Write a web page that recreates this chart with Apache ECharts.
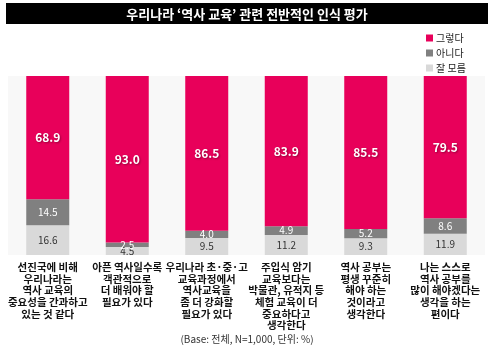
<!DOCTYPE html>
<html><head><meta charset="utf-8">
<script src="https://cdn.jsdelivr.net/npm/echarts@6/dist/echarts.min.js"></script>
<style>html,body{margin:0;padding:0;background:#fff}#c{width:494px;height:355px}</style>
</head><body><div id="c"></div>
<script>
const titleText = "우리나라 ‘역사 교육’ 관련 전반적인 인식 평가";
const footerText = "(Base: 전체, N=1,000, 단위: %)";
const categories = [
  "선진국에 비해\n우리나라는\n역사 교육의\n중요성을 간과하고\n있는 것 같다",
  "아픈 역사일수록\n객관적으로\n더 배워야 할\n필요가 있다",
  "우리나라 초·중·고\n교육과정에서\n역사교육을\n좀 더 강화할\n필요가 있다",
  "주입식 암기\n교육보다는\n박물관, 유적지 등\n체험 교육이 더\n중요하다고\n생각한다",
  "역사 공부는\n평생 꾸준히\n해야 하는\n것이라고\n생각한다",
  "나는 스스로\n역사 공부를\n많이 해야겠다는\n생각을 하는\n편이다"
];
const seriesNames = ["잘 모름", "아니다", "그렇다"];
const unknownVals = [16.6, 4.5, 9.5, 11.2, 9.3, 11.9];
const noVals = [14.5, 2.5, 4.0, 4.9, 5.2, 8.6];
const yesVals = [68.9, 93.0, 86.5, 83.9, 85.5, 79.5];

const font = "'Noto Sans CJK KR', 'Noto Sans', sans-serif";
const chart = echarts.init(document.getElementById('c'));
chart.setOption({
  animation: false,
  textStyle: { fontFamily: font },
  graphic: [
    { type: 'rect', shape: { x: 6, y: 3, width: 482, height: 21 }, style: { fill: '#000' } },
    { type: 'text', x: 247, y: 14, style: { text: titleText, fill: '#fff', font: "bold 13px " + font, textAlign: 'center', textVerticalAlign: 'middle' } },
    { type: 'text', x: 247, y: 339, style: { text: footerText, fill: '#333', font: "10px " + font, textAlign: 'center', textVerticalAlign: 'middle' } }
  ],
  legend: {
    data: ["그렇다", "아니다", "잘 모름"],
    orient: 'vertical', left: 421, top: 28,
    itemWidth: 7, itemHeight: 7, itemGap: 5, icon: 'rect',
    textStyle: { fontSize: 10, color: '#222', fontFamily: font, padding: [0, 0, 0, -2] }
  },
  grid: { left: 8, right: 9, top: 76, bottom: 100, show: true, backgroundColor: '#f8f8f8', borderWidth: 0 },
  xAxis: {
    type: 'category', data: categories,
    axisLine: { show: false }, axisTick: { show: false },
    axisLabel: { interval: 0, fontSize: 10.5, lineHeight: 11.7, color: '#111', margin: 6, fontWeight: 'bold', fontFamily: font }
  },
  yAxis: { type: 'value', min: 0, max: 100, show: false },
  series: [
    { name: seriesNames[0], type: 'bar', stack: 's', data: unknownVals, barWidth: 43,
      itemStyle: { color: '#d9d9d9' },
      label: { show: true, position: 'inside', color: '#333', fontSize: 10, fontFamily: font } },
    { name: seriesNames[1], type: 'bar', stack: 's', data: noVals, barWidth: 43,
      itemStyle: { color: '#808080' },
      label: { show: true, position: 'inside', color: '#fff', fontSize: 10, fontFamily: font,
        formatter: p => p.value.toFixed(1) } },
    { name: seriesNames[2], type: 'bar', stack: 's', data: yesVals, barWidth: 43,
      itemStyle: { color: '#e8005a' },
      label: { show: true, position: 'inside', color: '#fff', fontSize: 12, fontWeight: 'bold', fontFamily: font,
        textShadowColor: 'rgba(0,0,0,0.35)', textShadowBlur: 2, textShadowOffsetX: 1, textShadowOffsetY: 1,
        formatter: p => p.value.toFixed(1) } }
  ]
});
</script></body></html>
